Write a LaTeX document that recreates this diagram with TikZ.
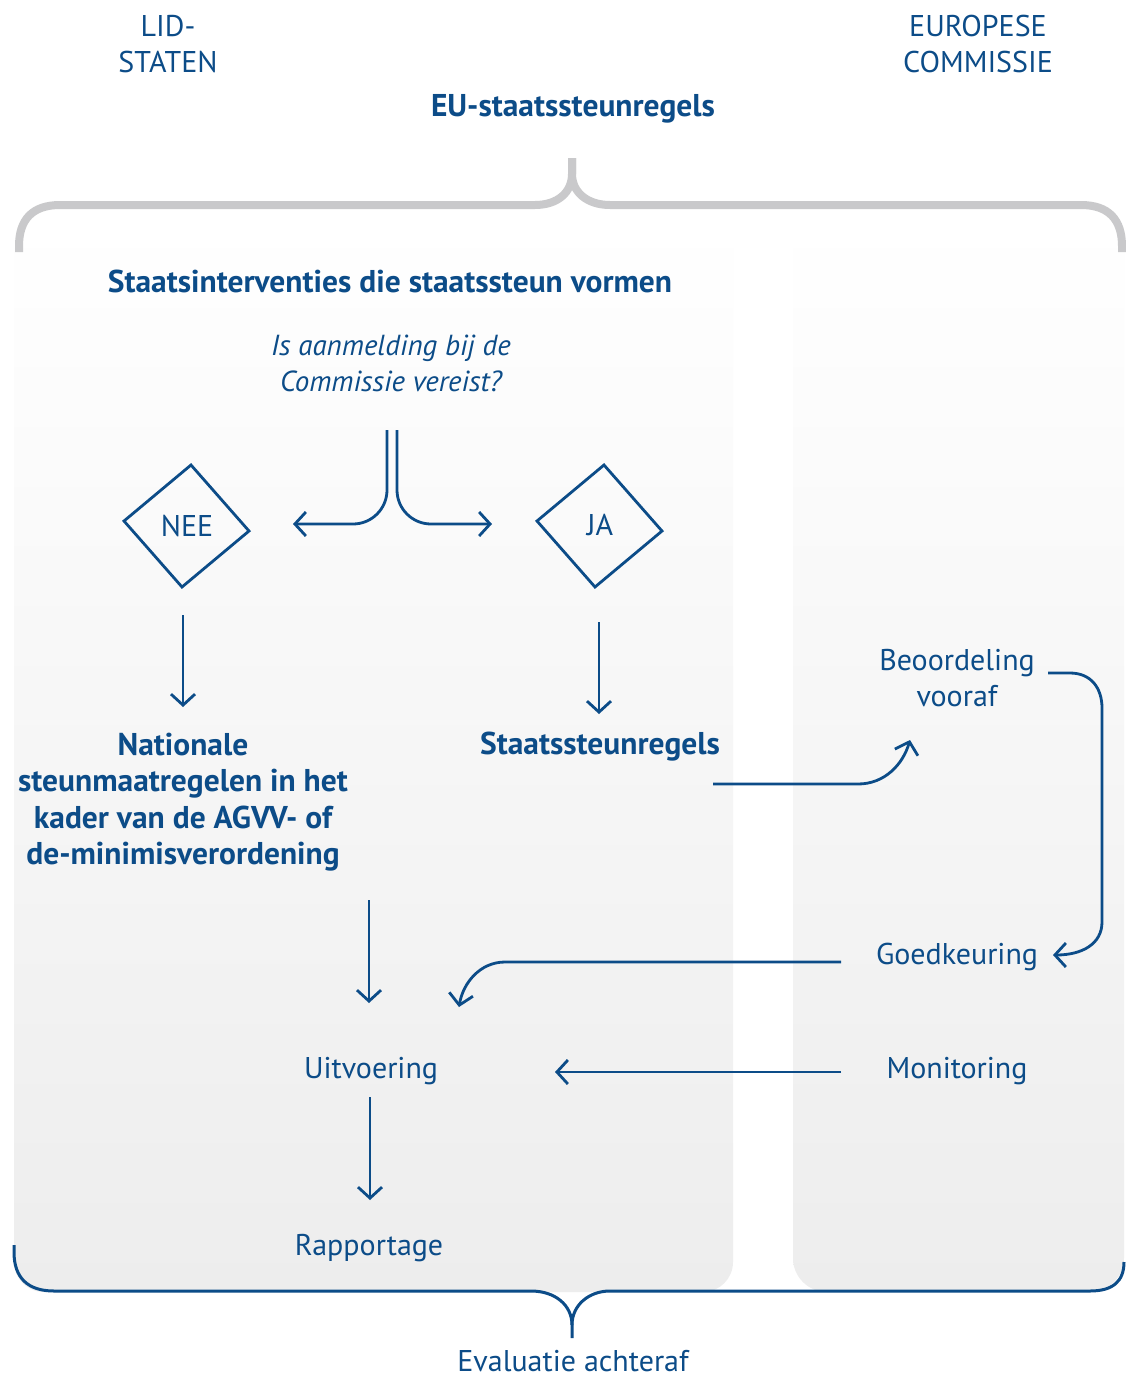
\documentclass[tikz,border=0pt]{standalone}
\usepackage{fontspec}
\setmainfont{PT Sans}
\usetikzlibrary{arrows.meta,calc}
\definecolor{eublue}{RGB}{12,76,136}
\definecolor{bracegray}{RGB}{201,201,203}
\definecolor{panelbot}{RGB}{237,237,237}
\tikzset{
  conn/.style={draw=eublue, line width=2.8pt, -{Straight Barb[length=11pt,width=24pt,line width=2.8pt]}},
  blueline/.style={draw=eublue, line width=2.8pt, line join=miter},
  lbl/.style={text=eublue, font=\fontsize{30}{36}\selectfont, align=center, inner sep=0pt, text height=21pt, text depth=6pt},
  mlbl/.style={text=eublue, font=\fontsize{30}{36}\selectfont, align=center, inner sep=0pt},
  blbl/.style={mlbl, font=\fontsize{31.5}{36.3}\selectfont\bfseries},
  ilbl/.style={mlbl, font=\fontsize{29}{36}\selectfont\itshape},
  panel/.style={top color=white, bottom color=panelbot, draw=none},
  bracetop/.style={draw=bracegray, line width=8pt},
  bracebot/.style={draw=eublue, line width=3pt},
}
\begin{document}
\begin{tikzpicture}[x=1pt,y=-1pt]
\useasboundingbox (0,0) rectangle (1126,1377);
\fill[white] (0,0) rectangle (1126,1377);
% background panels
\shade[panel, rounded corners=30] (14,218) rectangle (733,1292);
\shade[panel, rounded corners=34] (793,218) rectangle (1124,1292);
% top brace
\draw[bracetop] (19,252) -- (19,246) .. controls (19,220) and (32,205) .. (60,205) -- (535,205)
  .. controls (558,205) and (572,192) .. (572,174) -- (572,158);
\draw[bracetop] (1122,252) -- (1122,246) .. controls (1122,220) and (1109,205) .. (1081,205) -- (610,205)
  .. controls (587,205) and (572,192) .. (572,174) -- (572,158);
% bottom brace
\draw[bracebot] (14,1245) -- (14,1252) .. controls (14,1278) and (28,1291) .. (54,1291) -- (531,1291)
  .. controls (555,1291) and (572,1305) .. (572,1325) -- (572,1338);
\draw[bracebot] (1124,1262) .. controls (1124,1282) and (1112,1291) .. (1090,1291) -- (610,1291)
  .. controls (589,1291) and (572,1305) .. (572,1325);
% texts
\node[mlbl] (lid) at (168,44) {LID-\\STATEN};
\node[mlbl] (ec) at (978,44) {EUROPESE\\COMMISSIE};
\node[blbl] (eu) at (573,109) {EU-staatssteunregels};
\node[blbl] (title) at (390,281) {Staatsinterventies die staatssteun vormen};
\node[ilbl] (q) at (391,363) {Is aanmelding bij de\\Commissie vereist?};
\node[lbl] (nee) at (187,529) {NEE};
\node[lbl] (ja) at (600,528) {JA};
\node[blbl] (nat) at (183,802) {Nationale\\steunmaatregelen in het\\kader van de AGVV- of\\de-minimisverordening};
\node[blbl] (ssr) at (600,747) {Staatssteunregels};
\node[mlbl] (beo) at (957,678) {Beoordeling\\vooraf};
\node[lbl] (goed) at (957,957) {Goedkeuring};
\node[lbl] (uit) at (371,1071) {Uitvoering};
\node[lbl] (mon) at (957,1071) {Monitoring};
\node[lbl] (rap) at (369,1248) {Rapportage};
\node[lbl] (eval) at (573,1364) {Evaluatie achteraf};
% diamonds
\draw[blueline] (191,465) -- (249,531) -- (182,587) -- (124,521) -- cycle;
\draw[blueline] (604,465) -- (662,531) -- (595,587) -- (537,521) -- cycle;
% connector end points
\coordinate (forkL) at (387,430);
\coordinate (forkR) at (397,430);
\coordinate (neeIn) at (293,524);
\coordinate (jaIn) at (492,524);
\coordinate (neeOut) at (183,615);
\coordinate (natIn) at (183,707);
\coordinate (jaOut) at (599,622);
\coordinate (ssrIn) at (599,714);
\coordinate (ssrOut) at (713,784);
\coordinate (beoIn) at (910,740);
\coordinate (beoOut) at (1048,673);
\coordinate (goedIn) at (1053,955);
\coordinate (goedOut) at (841,962);
\coordinate (uitIn1) at (459,1007);
\coordinate (monOut) at (841,1072);
\coordinate (uitIn2) at (555,1072);
\coordinate (natOut) at (369,900);
\coordinate (uitIn0) at (369,1003);
\coordinate (uitOut) at (370,1097);
\coordinate (rapIn) at (370,1200);
% connectors
\draw[conn, rounded corners=34] (forkL) -- (forkL |- neeIn) -- (neeIn);
\draw[conn, rounded corners=34] (forkR) -- (forkR |- jaIn) -- (jaIn);
\draw[conn] (neeOut) -- (natIn);
\draw[conn] (jaOut) -- (ssrIn);
\draw[conn] (ssrOut) -- (858,784) .. controls (885,784) and (903,764) .. (beoIn);
\draw[conn] (beoOut) -- (1070,673) .. controls (1091,673) and (1102,688) .. (1102,708) -- (1102,922)
  .. controls (1102,944) and (1082,955) .. (goedIn);
\draw[conn] (goedOut) -- (505,962) .. controls (480,962) and (463,983) .. (uitIn1);
\draw[conn] (monOut) -- (uitIn2);
\draw[conn] (natOut) -- (uitIn0);
\draw[conn] (uitOut) -- (rapIn);
\end{tikzpicture}
\end{document}
